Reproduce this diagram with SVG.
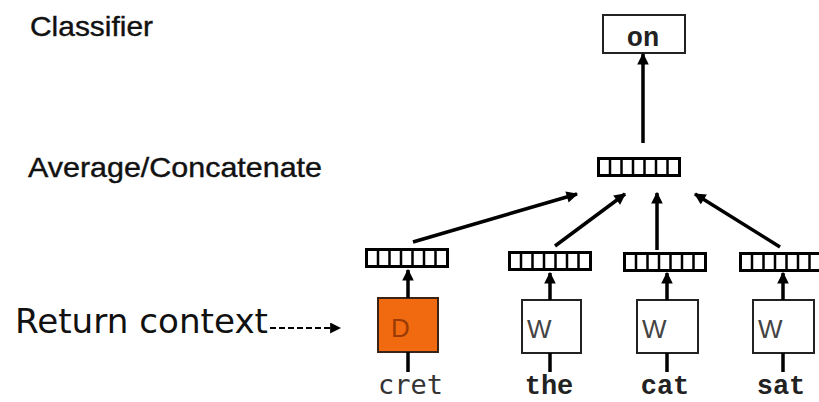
<svg xmlns="http://www.w3.org/2000/svg" xmlns:xlink="http://www.w3.org/1999/xlink" width="819" height="402" viewBox="0 0 819 402">
<style>
.lbl{font-family:"Liberation Sans",Arial,sans-serif;fill:#111;stroke:#111;stroke-width:0.4}
.mono{font-family:"Liberation Mono","Courier New",monospace;font-weight:bold;fill:#222;font-size:27px}
.box{fill:#fff;stroke:#222;stroke-width:2}
.w{font-family:"Liberation Sans",Arial,sans-serif;font-size:26px;fill:#444}
.conn{stroke:#000;stroke-width:3.5;fill:none;marker-end:url(#ah)}
.stub{stroke:#000;stroke-width:3.5}
</style>
<defs>
<marker id="ah" viewBox="0 0 10 10" refX="9" refY="5" markerWidth="3.6" markerHeight="3.3" orient="auto" markerUnits="strokeWidth">
<path d="M0,0 L10,5 L0,10 z" fill="#000"/>
</marker>
<marker id="ah2" viewBox="0 0 10 10" refX="9" refY="5" markerWidth="5" markerHeight="5" orient="auto" markerUnits="strokeWidth">
<path d="M0,0 L10,5 L0,10 z" fill="#000"/>
</marker>
<g id="vec">
<rect x="1.5" y="1.5" width="81" height="17" fill="#fff" stroke="#000" stroke-width="3"/>
<path d="M13 1.5V18.5M24.5 1.5V18.5M36 1.5V18.5M47.5 1.5V18.5M59 1.5V18.5M70.5 1.5V18.5" stroke="#000" stroke-width="2.5"/>
</g>
</defs>
<rect width="819" height="402" fill="#fff"/>
<text class="lbl" x="30" y="36" font-size="28" textLength="123" lengthAdjust="spacingAndGlyphs">Classifier</text>
<text class="lbl" x="28" y="177" font-size="28" textLength="294" lengthAdjust="spacingAndGlyphs">Average/Concatenate</text>
<text x="15" y="333" font-family="'DejaVu Sans',Verdana,sans-serif" font-size="34" fill="#111" textLength="253" lengthAdjust="spacingAndGlyphs">Return context</text>
<g id="out">
<rect x="603" y="15" width="82" height="38" class="box"/>
<text class="mono" x="643" y="46" text-anchor="middle">on</text>
</g>
<g id="avg"><use xlink:href="#vec" href="#vec" x="597" y="157"/></g>
<g id="v-cret"><use xlink:href="#vec" href="#vec" x="365" y="248"/></g>
<g id="v-the"><use xlink:href="#vec" href="#vec" x="508" y="251"/></g>
<g id="v-cat"><use xlink:href="#vec" href="#vec" x="623" y="252"/></g>
<g id="v-sat"><use xlink:href="#vec" href="#vec" x="739" y="252"/></g>
<g id="d-cret">
<rect x="378" y="298" width="60" height="54" fill="#F26A10" stroke="#3a2418" stroke-width="2"/>
<text x="391" y="337" font-family="'Liberation Sans',Arial,sans-serif" font-size="26" fill="#9a3a05">D</text>
<text x="378" y="394" font-family="'DejaVu Sans Mono',monospace" font-size="27" fill="#333">cret</text>
</g>
<g id="w-the">
<rect x="522" y="300" width="59" height="53" class="box"/>
<text class="w" x="527" y="338">W</text>
<text class="mono" x="549" y="394" text-anchor="middle">the</text>
</g>
<g id="w-cat">
<rect x="637" y="300" width="61" height="53" class="box"/>
<text class="w" x="642" y="338">W</text>
<text class="mono" x="665" y="394" text-anchor="middle">cat</text>
</g>
<g id="w-sat">
<rect x="753" y="300" width="61" height="53" class="box"/>
<text class="w" x="758" y="338">W</text>
<text class="mono" x="781" y="394" text-anchor="middle">sat</text>
</g>
<g id="connectors">
<line class="conn" x1="643" y1="143" x2="643" y2="54"/>
<line class="conn" x1="413" y1="242" x2="577" y2="194"/>
<line class="conn" x1="555" y1="246" x2="625" y2="194"/>
<line class="conn" x1="657" y1="250" x2="657" y2="193"/>
<line class="conn" x1="780" y1="247" x2="695" y2="194"/>
<line class="conn" x1="408" y1="298" x2="408" y2="270"/>
<line class="conn" x1="550" y1="300" x2="550" y2="273"/>
<line class="conn" x1="667" y1="300" x2="667" y2="273"/>
<line class="conn" x1="783" y1="300" x2="783" y2="273"/>
<line class="stub" x1="408" y1="352" x2="408" y2="372"/>
<line class="stub" x1="550" y1="353" x2="550" y2="372"/>
<line class="stub" x1="667" y1="353" x2="667" y2="372"/>
<line class="stub" x1="783" y1="353" x2="783" y2="372"/>
<line x1="270" y1="328" x2="340" y2="328" stroke="#000" stroke-width="2.2" stroke-dasharray="6,3" marker-end="url(#ah2)"/>
</g>
</svg>
